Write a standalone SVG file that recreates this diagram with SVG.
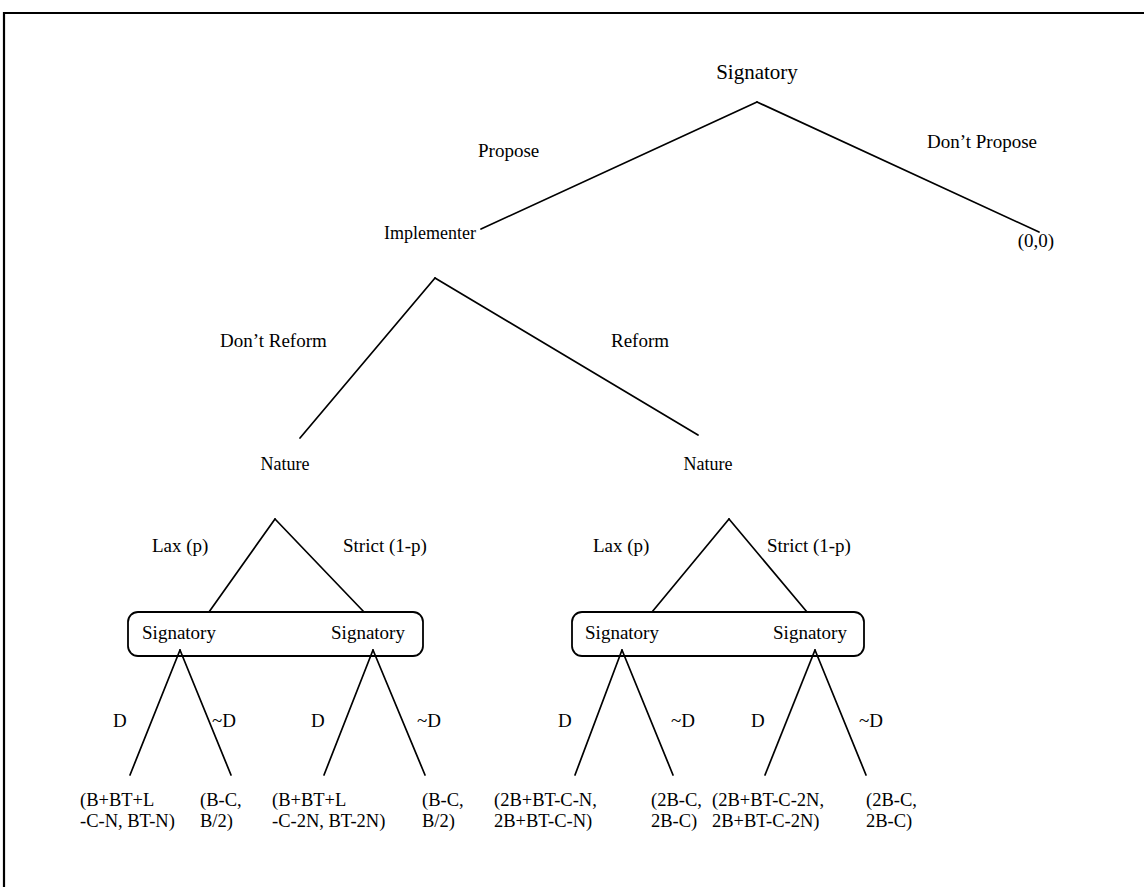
<svg xmlns="http://www.w3.org/2000/svg" width="1144" height="887" viewBox="0 0 1144 887">
  <style>
    text { font-family: "Liberation Serif", "Times New Roman", serif; font-size: 19px; fill: #000; }
    .big { font-size: 21px; }
    .node { font-size: 18px; }
    .pay { font-size: 18.5px; }
    .edge { stroke: #000; stroke-width: 1.7; fill: none; stroke-linecap: round; }
    .info { stroke: #000; stroke-width: 1.8; fill: none; }
    .frame { stroke: #000; stroke-width: 2.2; fill: none; }
  </style>
  <rect width="1144" height="887" fill="#fff"/>
  <!-- page frame -->
  <path class="frame" d="M4,887 V13 H1144"/>

  <g id="connectors">
    <!-- first move -->
    <line class="edge" x1="757" y1="102" x2="481" y2="229"/>
    <line class="edge" x1="757" y1="102" x2="1039" y2="232"/>
    <!-- implementer -->
    <line class="edge" x1="435" y1="278" x2="300" y2="438"/>
    <line class="edge" x1="435" y1="278" x2="698" y2="435"/>
    <!-- nature, left -->
    <line class="edge" x1="275" y1="519" x2="209" y2="612"/>
    <line class="edge" x1="275" y1="519" x2="364" y2="612"/>
    <!-- nature, right -->
    <line class="edge" x1="729" y1="519" x2="652" y2="612"/>
    <line class="edge" x1="729" y1="519" x2="807" y2="612"/>
    <!-- signatory decisions -->
    <line class="edge" x1="180" y1="650" x2="130" y2="775"/>
    <line class="edge" x1="180" y1="650" x2="231" y2="775"/>
    <line class="edge" x1="373" y1="650" x2="324" y2="775"/>
    <line class="edge" x1="373" y1="650" x2="425" y2="775"/>
    <line class="edge" x1="622" y1="650" x2="575" y2="775"/>
    <line class="edge" x1="622" y1="650" x2="673" y2="775"/>
    <line class="edge" x1="815" y1="650" x2="765" y2="775"/>
    <line class="edge" x1="815" y1="650" x2="866" y2="775"/>
  </g>

  <g id="edge-labels">
    <text x="478" y="157">Propose</text>
    <text x="927" y="148">Don’t Propose</text>
    <text x="220" y="347">Don’t Reform</text>
    <text x="611" y="347">Reform</text>
    <text x="152" y="552">Lax (p)</text>
    <text x="343" y="552">Strict (1-p)</text>
    <text x="593" y="552">Lax (p)</text>
    <text x="767" y="552">Strict (1-p)</text>
    <text x="113" y="727">D</text>
    <text x="212" y="727">~D</text>
    <text x="311" y="727">D</text>
    <text x="417" y="727">~D</text>
    <text x="558" y="727">D</text>
    <text x="671" y="727">~D</text>
    <text x="751" y="727">D</text>
    <text x="859" y="727">~D</text>
  </g>

  <g id="root">
    <text class="big" x="757" y="79" text-anchor="middle">Signatory</text>
  </g>
  <g id="implementer">
    <text class="node" x="430" y="239" text-anchor="middle">Implementer</text>
  </g>
  <g id="leaf-no-proposal">
    <text x="1036" y="247" text-anchor="middle">(0,0)</text>
  </g>
  <g id="nature-left">
    <text class="node" x="285" y="470" text-anchor="middle">Nature</text>
  </g>
  <g id="nature-right">
    <text class="node" x="708" y="470" text-anchor="middle">Nature</text>
  </g>

  <g id="infoset-left">
    <rect class="info" x="128" y="612" width="295" height="44" rx="10"/>
    <text x="179" y="639" text-anchor="middle">Signatory</text>
    <text x="368" y="639" text-anchor="middle">Signatory</text>
  </g>
  <g id="infoset-right">
    <rect class="info" x="572" y="612" width="292" height="44" rx="10"/>
    <text x="622" y="639" text-anchor="middle">Signatory</text>
    <text x="810" y="639" text-anchor="middle">Signatory</text>
  </g>

  <g id="payoff-1">
    <text class="pay" x="80" y="806">(B+BT+L</text>
    <text class="pay" x="80" y="827">-C-N, BT-N)</text>
  </g>
  <g id="payoff-2">
    <text class="pay" x="200" y="806">(B-C,</text>
    <text class="pay" x="200" y="827">B/2)</text>
  </g>
  <g id="payoff-3">
    <text class="pay" x="272" y="806">(B+BT+L</text>
    <text class="pay" x="272" y="827">-C-2N, BT-2N)</text>
  </g>
  <g id="payoff-4">
    <text class="pay" x="422" y="806">(B-C,</text>
    <text class="pay" x="422" y="827">B/2)</text>
  </g>
  <g id="payoff-5">
    <text class="pay" x="494" y="806">(2B+BT-C-N,</text>
    <text class="pay" x="494" y="827">2B+BT-C-N)</text>
  </g>
  <g id="payoff-6">
    <text class="pay" x="651" y="806">(2B-C,</text>
    <text class="pay" x="651" y="827">2B-C)</text>
  </g>
  <g id="payoff-7">
    <text class="pay" x="712" y="806">(2B+BT-C-2N,</text>
    <text class="pay" x="712" y="827">2B+BT-C-2N)</text>
  </g>
  <g id="payoff-8">
    <text class="pay" x="866" y="806">(2B-C,</text>
    <text class="pay" x="866" y="827">2B-C)</text>
  </g>
</svg>
